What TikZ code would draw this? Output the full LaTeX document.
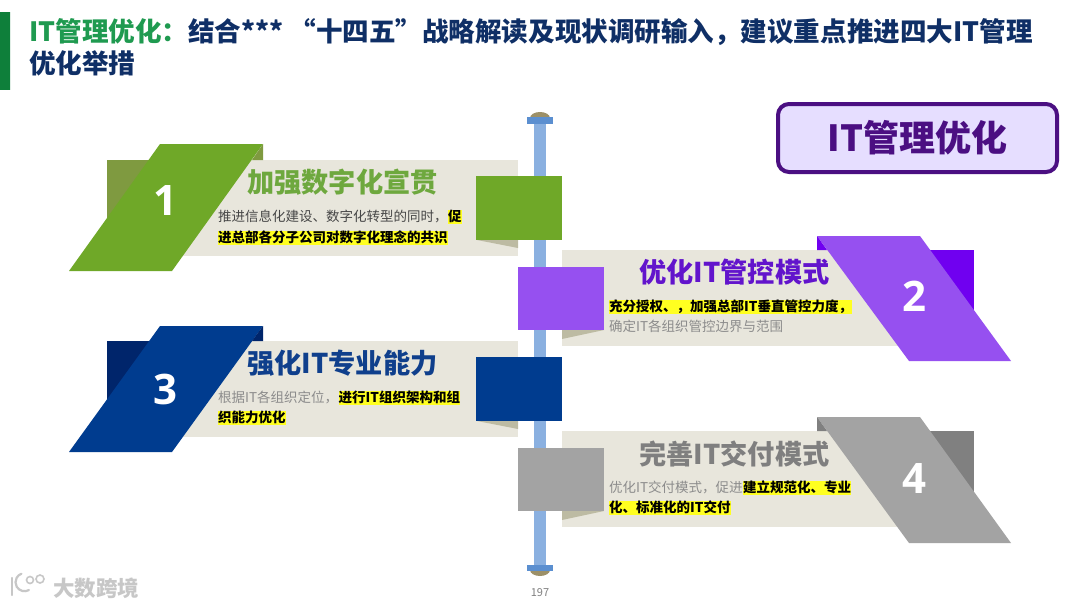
\documentclass[tikz,border=0pt]{standalone}
\usepackage{fontspec}
\setmainfont{Noto Sans CJK SC}
\newfontfamily\numfont{Open Sans}
\definecolor{navy}{HTML}{0F2F66}
\definecolor{titlegreen}{HTML}{1F9A50}
\definecolor{band}{HTML}{E8E6DC}
\definecolor{foldc}{HTML}{BDBBA3}
\definecolor{axisc}{HTML}{8AB0E0}
\definecolor{capc}{HTML}{5B8FD0}
\definecolor{domec}{HTML}{9C9068}
\definecolor{hly}{HTML}{FFFF20}
\definecolor{greenA}{HTML}{6FA828}
\definecolor{greenB}{HTML}{7F9A40}
\definecolor{greenT}{HTML}{6EA83E}
\definecolor{purpA}{HTML}{9650F0}
\definecolor{purpB}{HTML}{7000F0}
\definecolor{purpT}{HTML}{6214CC}
\definecolor{blueA}{HTML}{003C8F}
\definecolor{blueB}{HTML}{00256B}
\definecolor{blueT}{HTML}{0F3F8C}
\definecolor{grayA}{HTML}{A3A3A3}
\definecolor{grayB}{HTML}{808080}
\definecolor{grayT}{HTML}{7F7F7F}
\definecolor{boxline}{HTML}{4B0F82}
\definecolor{boxfill}{HTML}{E6DEFF}
\definecolor{barEnd}{HTML}{0E7F3A}
\definecolor{barMid}{HTML}{1DBE52}
\tikzset{
  titletext/.style={anchor=west,inner sep=0pt,font=\fontsize{26.55}{30}\selectfont\bfseries,text=navy},
  headtext/.style={inner sep=0pt,font=\fontsize{27.2}{32}\selectfont\bfseries},
  numtext/.style={inner sep=0pt,text=white,font=\fontsize{42}{50}\numfont\bfseries},
  bodytext/.style={anchor=west,inner sep=0pt,text height=11.5pt,text depth=2.5pt,font=\fontsize{13.5}{16}\selectfont},
  plaindark/.style={bodytext,text=black!72},
  plaingray/.style={bodytext,text=black!45},
  marked/.style={bodytext,fill=hly,text=black,font=\fontsize{13.5}{16}\selectfont\bfseries},
  bandf/.style={fill=band},
  foldf/.style={fill=foldc},
}
\begin{document}
\begin{tikzpicture}[x=1pt,y=-1pt]
\useasboundingbox (0,0) rectangle (1080,608);
\fill[white] (0,0) rectangle (1080,608);
% title
\shade[top color=barEnd,middle color=barMid,bottom color=barEnd] (0,12) rectangle (10,89);
\node[titletext] (t1) at (29,32) {\textcolor{titlegreen}{IT管理优化：}结合*** “十四五”战略解读及现状调研输入，建议重点推进四大IT管理};
\node[titletext] (t2) at (29,63) {优化举措};
% axis
\fill[domec] (530,118) arc[start angle=180,end angle=360,x radius=10,y radius=6] -- cycle;
\fill[domec] (530,570) arc[start angle=180,end angle=0,x radius=10,y radius=6] -- cycle;
\fill[axisc] (533.5,120) rectangle (546,570);
\fill[capc] (527,117) rectangle (553,124);
\fill[capc] (527,564.5) rectangle (553,571);
% card 1
\fill[bandf] (160,160) rectangle (518,256);
\fill[foldf] (477,240) -- (518,240) -- (518,248) -- cycle;
\fill[greenB] (107,160) rectangle (150,225);
\fill[greenA] (160,144) -- (263,144) -- (172,271) -- (69,271) -- cycle;
\fill[greenB] (263,144) -- (263,160) -- (252,160) -- cycle;
\fill[greenA] (476,176) rectangle (562,240);
\node[numtext] (n1) at (165,201) {1};
\node[headtext,text=greenT] (h1) at (342.5,182) {加强数字化宣贯};
\node[plaindark] (b1a) at (218,217) {推进信息化建设、数字化转型的同时，};
\node[marked,anchor=west] (b1b) at (b1a.east) {促};
\node[marked] (b1c) at (218,238) {进总部各分子公司对数字化理念的共识};
% card 2
\fill[bandf] (562,250) rectangle (920,346);
\fill[foldf] (562,330) -- (604,330) -- (562,339) -- cycle;
\fill[purpB] (930,250) rectangle (973.5,315);
\fill[purpA] (817,236) -- (920,236) -- (1011,361) -- (909,361) -- cycle;
\fill[purpB] (817,236) -- (817,250) -- (827,250) -- cycle;
\fill[purpA] (518,267) rectangle (604,330);
\node[numtext] (n2) at (914,296) {2};
\node[headtext,text=purpT] (h2) at (734.5,272) {优化IT管控模式};
\node[marked] (b2a) at (609,307) {充分授权、，加强总部IT垂直管控力度，};
\node[plaingray] (b2b) at (609,327) {确定IT各组织管控边界与范围};
% card 3
\fill[bandf] (160,341) rectangle (518,437);
\fill[foldf] (477,421) -- (518,421) -- (518,429) -- cycle;
\fill[blueB] (107,341) rectangle (150,406);
\fill[blueA] (160,326) -- (263,326) -- (172,452) -- (69,452) -- cycle;
\fill[blueB] (263,326) -- (263,341) -- (252,341) -- cycle;
\fill[blueA] (476,357) rectangle (562,421);
\node[numtext] (n3) at (165,389) {3};
\node[headtext,text=blueT] (h3) at (342.5,363) {强化IT专业能力};
\node[plaingray] (b3a) at (218,398) {根据IT各组织定位，};
\node[marked,anchor=west] (b3b) at (b3a.east) {进行IT组织架构和组};
\node[marked] (b3c) at (218,418) {织能力优化};
% card 4
\fill[bandf] (562,431) rectangle (920,527);
\fill[foldf] (562,511) -- (604,511) -- (562,520) -- cycle;
\fill[grayB] (930,431) rectangle (973.5,496);
\fill[grayA] (817,417) -- (920,417) -- (1011,543) -- (909,543) -- cycle;
\fill[grayB] (817,417) -- (817,431) -- (827,431) -- cycle;
\fill[grayA] (518,448) rectangle (604,511);
\node[numtext] (n4) at (914,479) {4};
\node[headtext,text=grayT] (h4) at (734.5,454) {完善IT交付模式};
\node[plaingray] (b4a) at (609,488) {优化IT交付模式，促进};
\node[marked,anchor=west] (b4b) at (b4a.east) {建立规范化、专业};
\node[marked] (b4c) at (609,508) {化、标准化的IT交付};
% box
\node[draw=boxline,fill=boxfill,line width=4pt,rounded corners=11pt,minimum width=279pt,minimum height=68pt,inner sep=0pt,text=boxline,font=\fontsize{36}{42}\selectfont\bfseries] (box) at (917.5,138) {IT管理优化};
% footer
\node[inner sep=0pt,text=black!50,font=\fontsize{11}{13}\selectfont] (pg) at (540,593) {197};
\node[inner sep=0pt,text=black!22,font=\fontsize{21.5}{26}\selectfont\bfseries] (wm) at (96,588) {大数跨境};
\draw[black!22,line width=2.2pt,line cap=round] (12,578) -- (12,595);
\draw[black!22,line width=2.2pt,line cap=round] (29,590) arc[start angle=60,end angle=250,radius=9];
\draw[black!22,line width=1.6pt] (30,580) circle[radius=3.5];
\draw[black!22,line width=1.6pt] (40,579) circle[radius=4];
\end{tikzpicture}
\end{document}
